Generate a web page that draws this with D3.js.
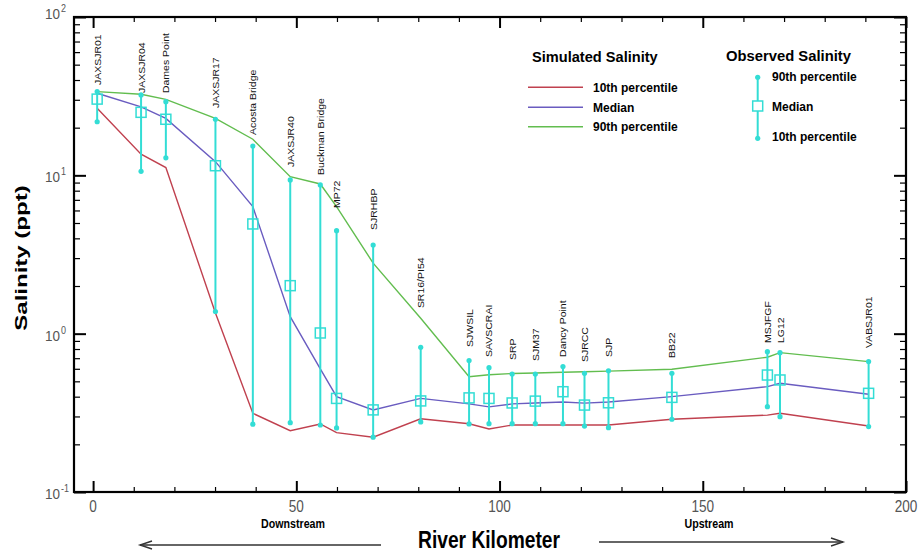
<!DOCTYPE html>
<html><head><meta charset="utf-8">
<script src="https://cdn.jsdelivr.net/npm/d3@7"></script>
<style>body{margin:0;background:#fff}svg{display:block}</style>
</head><body>
<svg id="c" width="920" height="554"></svg>
<script>
// ---- data ----
const stations = ["JAXSJR01","JAXSJR04","Dames Point","JAXSJR17","Acosta Bridge","JAXSJR40","Buckman Bridge","MP72","SJRHBP","SR16/PI54","SJWSIL","SAVSCRAI","SRP","SJM37","Dancy Point","SJRCC","SJP","BB22","MSJFGF","LG12","VABSJR01"];
const stationKm = [1, 11.8, 17.9, 30.1, 39.3, 48.5, 55.9, 59.9, 68.9, 80.6, 92.5, 97.4, 103.1, 108.8, 115.6, 120.9, 126.8, 142.4, 165.9, 169.0, 190.8];
const obs90  = [33.8, 32.2, 29.2, 22.6, 15.3, 9.35, 8.7, 4.47, 3.63, 0.82, 0.676, 0.61, 0.556, 0.556, 0.62, 0.562, 0.583, 0.562, 0.77, 0.759, 0.666];
const obsMed = [30.3, 25.0, 22.6, 11.5, 4.93, 2.01, 1.01, 0.39, 0.33, 0.376, 0.393, 0.39, 0.365, 0.375, 0.43, 0.354, 0.366, 0.396, 0.548, 0.51, 0.42];
const obs10  = [21.8, 10.6, 12.9, 1.38, 0.268, 0.274, 0.265, 0.254, 0.222, 0.277, 0.269, 0.27, 0.27, 0.27, 0.27, 0.261, 0.255, 0.288, 0.346, 0.299, 0.259];
const sim90  = [33.8, 32.5, 30.2, 22.9, 16.9, 9.8, 8.82, 6.35, 2.79, 1.25, 0.535, 0.55, 0.56, 0.565, 0.57, 0.575, 0.58, 0.596, 0.71, 0.759, 0.666];
const simMed = [33.0, 27.1, 22.9, 12.2, 6.34, 1.28, 0.6, 0.40, 0.33, 0.39, 0.36, 0.345, 0.36, 0.365, 0.37, 0.364, 0.37, 0.40, 0.463, 0.486, 0.414];
const sim10  = [26.5, 13.6, 11.2, 1.35, 0.314, 0.244, 0.269, 0.237, 0.222, 0.29, 0.27, 0.25, 0.265, 0.265, 0.265, 0.265, 0.265, 0.288, 0.306, 0.314, 0.261];
// salinity value at which each station label starts (annotation anchor)
const labelAt = [37.2, 33.1, 33.1, 26.6, 18.0, 11.3, 10.05, 6.22, 4.52, 1.45, 0.824, 0.713, 0.682, 0.672, 0.713, 0.662, 0.713, 0.702, 0.873, 0.873, 0.811];
const xMajor = [0, 50, 100, 150, 200];
const xMinor = [10,20,30,40,60,70,80,90,110,120,130,140,160,170,180,190];
const yDecades = [0.1, 1, 10, 100];
const yExp = ["-1","0","1","2"];
const simSeries = [
  {name:"10th percentile", values: sim10, color:"#c0414f"},
  {name:"Median", values: simMed, color:"#6a5cc0"},
  {name:"90th percentile", values: sim90, color:"#62bd4f"}
];
const obsColor = "#33ddd5";

// ---- chart ----
const svg = d3.select("#c");
const L=74, R=906, T=17, B=492;
const x = d3.scaleLinear().domain([-4.7, 200]).range([L, R]);
const y = d3.scaleLog().domain([0.1, 100]).range([B, T]);
const yMinor = [];
for (const d of [0.1,1,10]) for (let k=2;k<=9;k++) yMinor.push(+(d*k).toPrecision(3));

function styleAxis(g, w){ g.select(".domain").remove(); g.selectAll(".tick line").attr("stroke","#000").attr("stroke-width",w); g.selectAll(".tick text").remove(); }
svg.append("g").attr("transform",`translate(${L},0)`).call(d3.axisLeft(y).tickValues(yDecades).tickSizeInner(-12).tickSizeOuter(0).tickFormat("")).call(g=>styleAxis(g,2));
svg.append("g").attr("transform",`translate(${L},0)`).call(d3.axisLeft(y).tickValues(yMinor).tickSizeInner(-6).tickSizeOuter(0).tickFormat("")).call(g=>styleAxis(g,1.2));
svg.append("g").attr("transform",`translate(${R},0)`).call(d3.axisRight(y).tickValues(yDecades).tickSizeInner(-12).tickSizeOuter(0).tickFormat("")).call(g=>styleAxis(g,2));
svg.append("g").attr("transform",`translate(${R},0)`).call(d3.axisRight(y).tickValues(yMinor).tickSizeInner(-6).tickSizeOuter(0).tickFormat("")).call(g=>styleAxis(g,1.2));
svg.append("g").attr("transform",`translate(0,${B})`).call(d3.axisBottom(x).tickValues(xMajor).tickSizeInner(-11).tickSizeOuter(0).tickFormat("")).call(g=>styleAxis(g,2));
svg.append("g").attr("transform",`translate(0,${B})`).call(d3.axisBottom(x).tickValues(xMinor).tickSizeInner(-5).tickSizeOuter(0).tickFormat("")).call(g=>styleAxis(g,1.2));
svg.append("g").attr("transform",`translate(0,${T})`).call(d3.axisTop(x).tickValues(xMajor).tickSizeInner(-11).tickSizeOuter(0).tickFormat("")).call(g=>styleAxis(g,2));
svg.append("g").attr("transform",`translate(0,${T})`).call(d3.axisTop(x).tickValues(xMinor).tickSizeInner(-5).tickSizeOuter(0).tickFormat("")).call(g=>styleAxis(g,1.2));
svg.append("rect").attr("x",L).attr("y",T).attr("width",R-L).attr("height",B-T).attr("fill","none").attr("stroke","#000").attr("stroke-width",2.2);

const FF = "Arial, 'Liberation Sans', sans-serif";
function txt(x0,y0,s,size,opt={}){
  const t = svg.append("text").attr("transform",`translate(${x0},${y0}) scale(${opt.sx||1},1)`)
    .attr("font-family",FF).attr("font-size",size).attr("fill",opt.fill||"#000")
    .attr("font-weight",opt.bold?"bold":"normal").attr("text-anchor",opt.anchor||"start").text(s);
  return t;
}
// y tick labels
yDecades.forEach((d,i)=>{
  const yy = y(d) + (i===3 ? 2 : 7);
  txt(60, yy, "10", 15, {anchor:"end", fill:"#555", sx:0.9});
  txt(61, yy-7, yExp[i], 10, {fill:"#555", sx:0.9});
});
// x tick labels
xMajor.forEach(d=>{ txt(x(d), 512, String(d), 17, {anchor:"middle", fill:"#555", sx:0.8}); });

// axis titles
svg.append("text").attr("transform","translate(27,258) rotate(-90) scale(1,0.72)")
  .attr("font-family",FF).attr("font-size",24).attr("font-weight","bold").attr("text-anchor","middle").text("Salinity (ppt)");
txt(489, 548, "River Kilometer", 24, {bold:true, anchor:"middle", sx:0.8});
txt(293, 528, "Downstream", 13, {bold:true, anchor:"middle", sx:0.82});
txt(709, 528, "Upstream", 13, {bold:true, anchor:"middle", sx:0.82});
// arrows
const arr = svg.append("g").attr("stroke","#333").attr("stroke-width",1.4).attr("fill","none");
arr.append("line").attr("x1",381).attr("y1",545).attr("x2",140).attr("y2",545);
arr.append("path").attr("d","M152,541 L140,545 L152,549");
arr.append("line").attr("x1",599).attr("y1",542).attr("x2",843).attr("y2",542);
arr.append("path").attr("d","M831,538 L843,542 L831,546");

// simulated lines
const line = d3.line().x((d,i)=>x(stationKm[i])).y(d=>y(d));
simSeries.forEach(s=>{
  svg.append("path").attr("d",line(s.values)).attr("fill","none").attr("stroke",s.color).attr("stroke-width",1.4);
});

// observed whiskers
const og = svg.append("g");
stations.forEach((st,i)=>{
  const xx = x(stationKm[i]);
  og.append("line").attr("x1",xx).attr("x2",xx).attr("y1",y(obs90[i])).attr("y2",y(obs10[i])).attr("stroke",obsColor).attr("stroke-width",2);
  og.append("circle").attr("cx",xx).attr("cy",y(obs90[i])).attr("r",2.6).attr("fill",obsColor);
  og.append("circle").attr("cx",xx).attr("cy",y(obs10[i])).attr("r",2.6).attr("fill",obsColor);
  og.append("rect").attr("x",xx-5).attr("y",y(obsMed[i])-5).attr("width",10).attr("height",10).attr("fill","none").attr("stroke",obsColor).attr("stroke-width",1.5);
  svg.append("text").attr("transform",`translate(${xx+3.5},${y(labelAt[i])}) rotate(-90) scale(1,0.9)`)
    .attr("font-family",FF).attr("font-size",10.5).attr("fill","#111").text(st);
});

// legend: simulated
txt(532, 62, "Simulated Salinity", 14.6, {bold:true});
simSeries.forEach((s,i)=>{
  const yy = [87.3,107.3,126.7][i];
  svg.append("line").attr("x1",528).attr("x2",583).attr("y1",yy).attr("y2",yy).attr("stroke",s.color).attr("stroke-width",1.4);
  txt(593, yy+4.5, s.name, 12, {bold:true});
});
// legend: observed
txt(726, 61, "Observed Salinity", 14.8, {bold:true});
const lx = 757.7;
svg.append("line").attr("x1",lx).attr("x2",lx).attr("y1",77.3).attr("y2",138.3).attr("stroke",obsColor).attr("stroke-width",2);
svg.append("circle").attr("cx",lx).attr("cy",77.3).attr("r",2.6).attr("fill",obsColor);
svg.append("circle").attr("cx",lx).attr("cy",138.3).attr("r",2.6).attr("fill",obsColor);
svg.append("rect").attr("x",lx-5).attr("y",101).attr("width",10).attr("height",10).attr("fill","#fff").attr("stroke",obsColor).attr("stroke-width",1.5);
txt(772, 81, "90th percentile", 12, {bold:true});
txt(772, 110.5, "Median", 12, {bold:true});
txt(772, 140.5, "10th percentile", 12, {bold:true});
</script>
</body></html>
